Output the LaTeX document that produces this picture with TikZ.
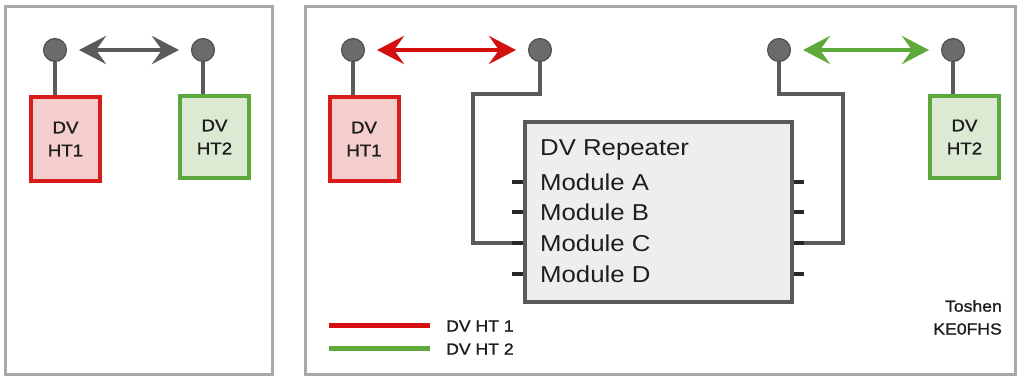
\documentclass[tikz,border=0pt]{standalone}
\usepackage{fontspec}
\setmainfont{Liberation Sans}[FakeStretch=1.12]
\newfontfamily\semibold{Liberation Sans}[FakeStretch=1.1, FakeBold=1.2]
\usetikzlibrary{arrows.meta}
\definecolor{wire}{HTML}{5A5A5A}
\definecolor{panelc}{HTML}{A8A8A8}
\definecolor{htred}{HTML}{D81B1B}
\definecolor{htredfill}{HTML}{F4CDCD}
\definecolor{htgreen}{HTML}{5CA83C}
\definecolor{htgreenfill}{HTML}{DCEAD4}
\definecolor{arrred}{HTML}{D40F0F}
\definecolor{arrgreen}{HTML}{5DAA3A}
\definecolor{repfill}{HTML}{EEEEEE}
\definecolor{txt}{HTML}{1E1E1E}
\tikzset{
  panelbox/.style={draw=panelc, line width=3pt, fill=white, inner sep=0pt},
  ant/.style={circle, draw=wire!80!black, fill=wire!90!white, line width=1pt, minimum size=23pt, inner sep=0pt},
  stem/.style={draw=wire, line width=4pt},
  htbox/.style={draw=#1, line width=4pt, inner sep=0pt, align=center, text=txt,
     font=\semibold\fontsize{17}{23}\selectfont, minimum width=69pt},
  redht/.style={htbox=htred, fill=htredfill},
  greenht/.style={htbox=htgreen, fill=htgreenfill},
  link/.style={line width=4.5pt, draw=#1, {Stealth[length=27pt,width=28pt,inset=10pt]}-{Stealth[length=27pt,width=28pt,inset=10pt]}, shorten <=12pt, shorten >=12pt},
  repbox/.style={draw=wire, line width=4pt, fill=repfill, inner sep=0pt},
  reptext/.style={anchor=west, inner sep=0pt, text=txt, font=\fontsize{23}{28}\selectfont},
  tick/.style={draw=black!85, line width=4pt},
  legline/.style={line width=5pt, draw=#1},
  legtext/.style={anchor=west, inner sep=0pt, text=txt, font=\semibold\fontsize{16}{20}\selectfont},
  sigtext/.style={anchor=east, inner sep=0pt, text=txt, font=\semibold\fontsize{16}{20}\selectfont},
}
\begin{document}
\begin{tikzpicture}[x=1pt,y=-1pt]
\useasboundingbox (0,0) rectangle (1017,377);
% panels
\node[panelbox, minimum width=267pt, minimum height=367pt] (panelL) at (138.5,190.5) {};
\node[panelbox, minimum width=710pt, minimum height=367pt] (panelR) at (660,190.5) {};

% ---- left panel ----
\node[ant] (aL1) at (55,50) {};
\node[ant] (aL2) at (203,50) {};
\node[redht, minimum height=84pt] (bL1) at (65.5,139) {DV\\HT1};
\node[greenht, minimum height=82pt] (bL2) at (214.5,137) {DV\\HT2};
\draw[stem] (aL1) -- (aL1 |- bL1.north);
\draw[stem] (aL2) -- (aL2 |- bL2.north);
\draw[link=wire] (aL1) -- (aL2);

% ---- right panel ----
\node[ant] (aR1) at (353,50) {};
\node[ant] (aR2) at (540,50) {};
\node[ant] (aR3) at (779,50) {};
\node[ant] (aR4) at (953,50) {};
\node[redht, minimum height=84pt] (bR1) at (364,139) {DV\\HT1};
\node[greenht, minimum height=82pt] (bR2) at (964.5,137) {DV\\HT2};
\draw[stem] (aR1) -- (aR1 |- bR1.north);
\draw[stem] (aR4) -- (aR4 |- bR2.north);
\draw[link=arrred] (aR1) -- (aR2);
\draw[link=arrgreen] (aR3) -- (aR4);

% repeater
\node[repbox, minimum width=267pt, minimum height=180pt] (rep) at (658.5,212) {};
\node[reptext] (t0) at (540,150) {DV Repeater};
\node[reptext] (tA) at (540,182) {Module A};
\node[reptext] (tB) at (540,212) {Module B};
\node[reptext] (tC) at (540,243) {Module C};
\node[reptext] (tD) at (540,274) {Module D};

% module ports
\foreach \n/\y in {A/182,B/212,C/243,D/274}{
  \coordinate (pl\n) at (512,\y);
  \coordinate (pr\n) at (804,\y);
  \draw[tick] (pl\n) -- (rep.west |- pl\n);
  \draw[tick] (pr\n) -- (rep.east |- pr\n);
}

% wires
\draw[stem, line join=miter] (aR2) -- (540,94) -- (473,94) -- (473,243) -- (plC);
\draw[stem, line join=miter] (aR3) -- (779,94) -- (843,94) -- (843,243) -- (prC);

% legend
\coordinate (lr1) at (329,325);
\coordinate (lr2) at (430,325);
\coordinate (lg1) at (329,348);
\coordinate (lg2) at (430,348);
\draw[legline=arrred] (lr1) -- (lr2);
\draw[legline=arrgreen] (lg1) -- (lg2);
\node[legtext] (leg1) at (446,326) {DV HT 1};
\node[legtext] (leg2) at (446,349) {DV HT 2};

% signature
\node[sigtext] (sig1) at (1002,306) {Toshen};
\node[sigtext] (sig2) at (1002,329) {KE0FHS};
\end{tikzpicture}
\end{document}
